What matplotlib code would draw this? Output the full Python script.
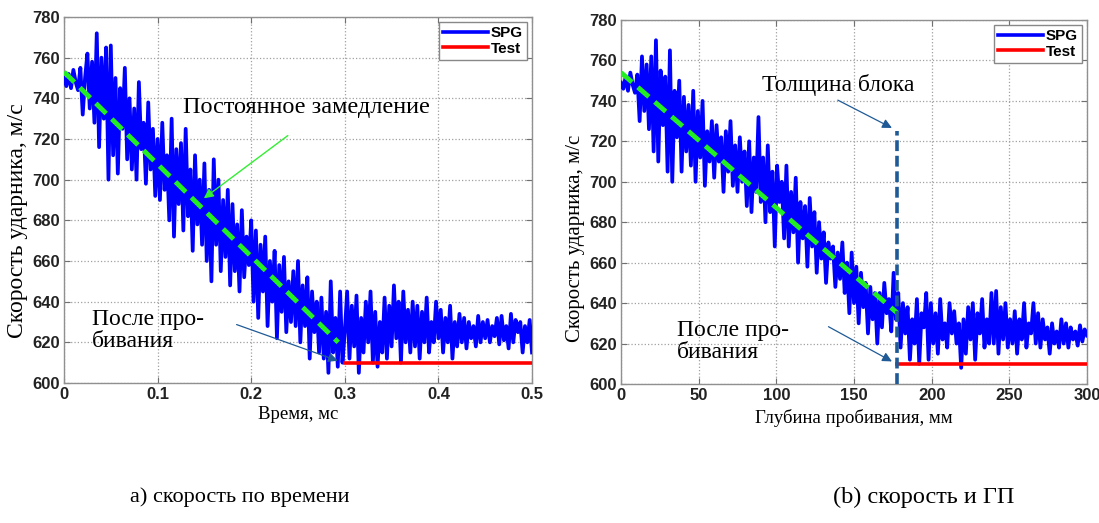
import numpy as np
import matplotlib
matplotlib.use("Agg")
import matplotlib.pyplot as plt

# ---------------- data ----------------
# (a) velocity vs time, SPG simulation (t from 0 to 0.5 ms, 201 samples)
t_start, t_end = 0.0, 0.5
spg_time_v = [
    750, 746, 752, 745, 754, 748, 744, 755, 732, 750,
    762, 735, 758, 728, 772, 716, 760, 730, 765, 700,
    766, 712, 750, 703, 745, 725, 755, 710, 740, 705,
    735, 700, 748, 715, 728, 698, 738, 705, 725, 692,
    720, 690, 728, 695, 712, 680, 730, 672, 715, 688,
    718, 675, 725, 682, 705, 665, 712, 678, 700, 668,
    708, 660, 695, 650, 710, 668, 700, 655, 690, 662,
    695, 648, 688, 655, 678, 645, 685, 652, 672, 658,
    680, 640, 675, 632, 668, 645, 672, 628, 660, 640,
    665, 622, 658, 635, 662, 625, 650, 630, 655, 628,
    660, 620, 648, 628, 652, 612, 645, 625, 640, 615,
    642, 612, 635, 605, 650, 615, 632, 608, 645, 610,
    625, 645, 612, 638, 618, 643, 605, 632, 615, 640,
    620, 645, 610, 635, 608, 630, 615, 642, 612, 638,
    618, 648, 622, 640, 610, 645, 620, 636, 615, 640,
    618, 638, 612, 635, 620, 642, 615, 630, 620, 640,
    622, 636, 615, 632, 620, 638, 612, 630, 618, 634,
    620, 632, 617, 630, 622, 628, 618, 633, 620, 630,
    622, 631, 620, 628, 623, 632, 619, 633, 621, 628,
    617, 634, 620, 631, 625, 630, 615, 628, 620, 631,
    615,
]
test_time_t = [0.3, 0.5]
test_time_v = [610, 610]
trend_time_t = [0.0, 0.293]
trend_time_v = [753, 620]

# (b) velocity vs penetration depth (0..300 mm, 201 samples)
d_start, d_end = 0.0, 300.0
spg_depth_v = [
    749, 746, 752, 745, 754, 748, 744, 753, 730, 762,
    735, 758, 726, 762, 715, 770, 710, 755, 728, 752,
    705, 765, 700, 745, 722, 750, 705, 742, 715, 738,
    708, 745, 700, 735, 712, 740, 698, 725, 710, 730,
    702, 728, 710, 722, 695, 725, 705, 730, 698, 718,
    695, 722, 700, 715, 688, 720, 685, 712, 695, 732,
    690, 712, 680, 718, 685, 705, 668, 708, 690, 700,
    672, 708, 668, 695, 675, 702, 660, 690, 672, 688,
    658, 692, 668, 685, 655, 680, 662, 675, 650, 670,
    662, 668, 648, 665, 652, 670, 645, 660, 635, 665,
    640, 658, 630, 655, 638, 650, 625, 648, 632, 645,
    620, 645, 628, 650, 635, 642, 626, 655, 632, 645,
    618, 640, 625, 638, 612, 632, 620, 642, 610, 635,
    628, 645, 612, 640, 620, 635, 615, 642, 622, 630,
    618, 640, 625, 636, 620, 630, 608, 632, 615, 638,
    622, 640, 612, 635, 625, 642, 618, 632, 620, 645,
    620, 646, 615, 638, 622, 640, 618, 632, 620, 636,
    615, 632, 622, 640, 618, 630, 625, 640, 620, 635,
    618, 632, 622, 628, 615, 630, 620, 626, 618, 632,
    620, 630, 618, 628, 622, 626, 619, 629, 621, 627,
    624,
]
test_depth_d = [178, 300]
test_depth_v = [610, 610]
trend_depth_d = [0, 178]
trend_depth_v = [754, 635]
block_thickness = 178
block_top = 725

time_ticks = [0, 0.1, 0.2, 0.3, 0.4, 0.5]
time_ticklabels = ["0", "0.1", "0.2", "0.3", "0.4", "0.5"]
depth_ticks = [0, 50, 100, 150, 200, 250, 300]
v_ticks = [600, 620, 640, 660, 680, 700, 720, 740, 760, 780]

# ---------------- style ----------------
SERIF = "Liberation Serif"
SANS = "Liberation Sans"
BLUE = "#0000ff"
RED = "#ff0000"
GREEN = "#22ee22"
DARKBLUE = "#1f5a96"

fig = plt.figure(figsize=(10.99, 5.23), dpi=100)
fig.patch.set_facecolor("white")

ax1 = fig.add_axes([64 / 1099, 1 - 383 / 523, 468 / 1099, 366 / 523])
ax2 = fig.add_axes([621 / 1099, 1 - 384 / 523, 466 / 1099, 364 / 523])


def style_axes(ax, xlim, xticks, xticklabels):
    ax.set_xlim(*xlim)
    ax.set_ylim(600, 780)
    ax.set_xticks(xticks)
    ax.set_xticklabels(xticklabels)
    ax.set_yticks(v_ticks)
    ax.grid(True, linestyle=":", color="#a0a0a0", linewidth=0.9)
    ax.tick_params(direction="in", top=True, right=True, length=4,
                   color="#707070", labelsize=12, pad=3)
    for lab in ax.get_xticklabels() + ax.get_yticklabels():
        lab.set_fontfamily(SANS)
        lab.set_fontweight("bold")
        lab.set_color("#222222")
    for sp in ax.spines.values():
        sp.set_color("#909090")
        sp.set_linewidth(1.0)


def add_legend(ax):
    leg = ax.legend(loc="upper right", prop={"family": SANS, "weight": "bold", "size": 11},
                    handlelength=3.0, handletextpad=0.15, borderpad=0.25, labelspacing=0.1,
                    fancybox=False, edgecolor="#888888", framealpha=1,
                    borderaxespad=0.35)
    leg.get_frame().set_linewidth(1.0)
    for line in leg.get_lines():
        line.set_linewidth(2.6)


# ---- (a)
t = np.linspace(t_start, t_end, len(spg_time_v))
ax1.plot(t, spg_time_v, color=BLUE, lw=2.7, label="SPG", zorder=3)
ax1.plot(test_time_t, test_time_v, color=RED, lw=2.6, label="Test", zorder=4)
ax1.plot(trend_time_t, trend_time_v, color=GREEN, lw=3.5, ls=(0, (3, 1.6)), zorder=5)
style_axes(ax1, (0, 0.5), time_ticks, time_ticklabels)
ax1.set_xlabel("Время, мс", fontfamily=SERIF, fontsize=13.5, labelpad=3)
ax1.set_ylabel("Скорость ударника, м/с", fontfamily=SERIF, fontsize=17, labelpad=3)
ax1.yaxis.set_label_coords(-0.077, 0.445)
add_legend(ax1)

ax1.text(0.127, 735.5, "Постоянное замедление", fontfamily=SERIF, fontsize=17.5,
         ha="left", va="center", zorder=6)
ax1.annotate("", xy=(0.147, 690), xytext=(0.2415, 722.5),
             arrowprops=dict(arrowstyle="-|>", color="#33ee33", lw=1.0,
                             mutation_scale=14), zorder=6)
ax1.text(0.03, 626, "После про-\nбивания", fontfamily=SERIF, fontsize=17,
         ha="left", va="center", linespacing=1.05, zorder=6)
ax1.annotate("", xy=(0.2953, 610.5), xytext=(0.1816, 629.2),
             arrowprops=dict(arrowstyle="-|>", color=DARKBLUE, lw=0.9,
                             mutation_scale=14), zorder=6)

# ---- (b)
d = np.linspace(d_start, d_end, len(spg_depth_v))
ax2.plot(d, spg_depth_v, color=BLUE, lw=2.7, label="SPG", zorder=3)
ax2.plot(test_depth_d, test_depth_v, color=RED, lw=2.6, label="Test", zorder=4)
ax2.plot(trend_depth_d, trend_depth_v, color=GREEN, lw=3.5, ls=(0, (3, 1.6)), zorder=5)
ax2.plot([block_thickness, block_thickness], [600, block_top], color=DARKBLUE,
         lw=2.6, ls=(0, (3, 1.3)), zorder=6)
style_axes(ax2, (0, 300), depth_ticks, [str(v) for v in depth_ticks])
ax2.set_xlabel("Глубина пробивания, мм", fontfamily=SERIF, fontsize=13.5, labelpad=4)
ax2.set_ylabel("Скорость ударника, м/с", fontfamily=SERIF, fontsize=15, labelpad=3)
ax2.yaxis.set_label_coords(-0.077, 0.40)
add_legend(ax2)

ax2.text(91, 748, "Толщина блока", fontfamily=SERIF, fontsize=17,
         ha="left", va="center", zorder=7)
ax2.annotate("", xy=(176, 726), xytext=(138, 741),
             arrowprops=dict(arrowstyle="-|>", color=DARKBLUE, lw=0.9,
                             mutation_scale=14), zorder=7)
ax2.text(36, 621, "После про-\nбивания", fontfamily=SERIF, fontsize=17,
         ha="left", va="center", linespacing=1.05, zorder=7)
ax2.annotate("", xy=(176, 610.5), xytext=(132, 629),
             arrowprops=dict(arrowstyle="-|>", color=DARKBLUE, lw=0.9,
                             mutation_scale=14), zorder=7)

# ---- captions
fig.text(130 / 1099, 1 - 497 / 523, "а) скорость по времени", fontfamily=SERIF,
         fontsize=16, ha="left", va="center")
fig.text(833 / 1099, 1 - 497 / 523, "(b) скорость и ГП", fontfamily=SERIF,
         fontsize=17.5, ha="left", va="center")

fig.savefig("out.png", dpi=100, facecolor="white")
